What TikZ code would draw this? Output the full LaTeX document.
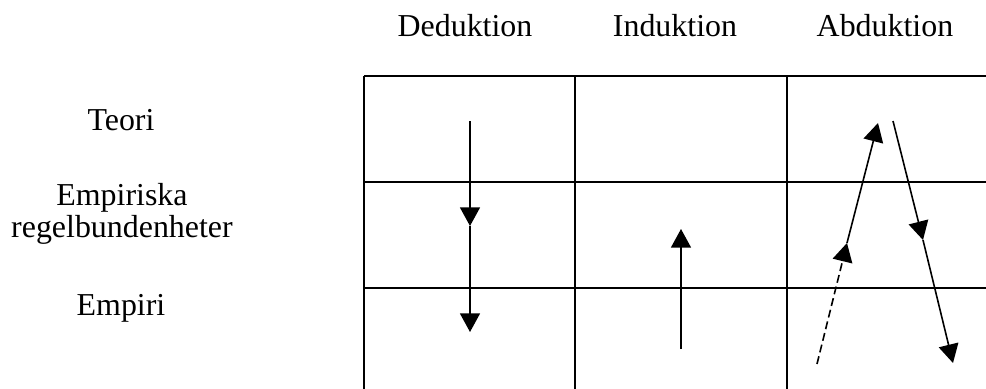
\documentclass[tikz,border=0pt]{standalone}
\usepackage{fontspec}
\setmainfont{Liberation Serif}
\usetikzlibrary{arrows.meta}

\begin{document}
\begin{tikzpicture}[x=0.376pt,y=-0.376pt,font=\fontsize{12}{11.8}\selectfont]
			\useasboundingbox (0,0) rectangle (986,389);
			% Styles for the table, the arrows and the labels
			\tikzstyle{gridline} = [line width=0.75pt];
			\tikzstyle{flow} = [line width=0.6pt, -{Triangle[width=7.5pt,length=7pt]}];
			\tikzstyle{lbl} = [anchor=base, inner sep=0pt, align=center];
			
			% Table, left open at the right and at the bottom
			\foreach \x in {364,575,787}
			\draw[gridline] (\x,76) -- (\x,389);
			\foreach \y in {76,182,288}
			\draw[gridline] (364,\y) -- (986,\y);
			
			% Column heads
			\foreach \n/\x/\t in {ded/465/Deduktion, ind/675/Induktion, abd/885/Abduktion}
			\node[lbl] (head\n) at (\x,37) {\t};
			
			% Row labels (base of a two-line node is its last line)
			\node[lbl] (rowTeori) at (121,130) {Teori};
			\node[lbl] (rowRegel) at (122,237) {Empiriska\\regelbundenheter};
			\node[lbl] (rowEmpiri) at (121,315) {Empiri};
			
			% Deduktion: straight down
			\coordinate (d0) at (470,121);
			\coordinate (d1) at (470,226);
			\coordinate (d2) at (470,332);
			\draw[flow] (d0) -- (d1);
			\draw[flow] (d1) -- (d2);
			
			% Induktion: up
			\coordinate (i0) at (681,349);
			\coordinate (i1) at (681,229);
			\draw[flow] (i0) -- (i1);
			
			% Abduktion: up (first part dashed), then down again
			\coordinate (a0) at (817,364);
			\coordinate (a1) at (847,243);
			\coordinate (a2) at (878,123);
			\draw[flow, dash pattern=on 3pt off 1.5pt] (a0) -- (a1);
			\draw[flow] (a1) -- (a2);
			\coordinate (b0) at (893,121);
			\coordinate (b1) at (923,240);
			\coordinate (b2) at (953,363);
			\draw[flow] (b0) -- (b1);
			\draw[flow] (b1) -- (b2);
		\end{tikzpicture}
\end{document}
